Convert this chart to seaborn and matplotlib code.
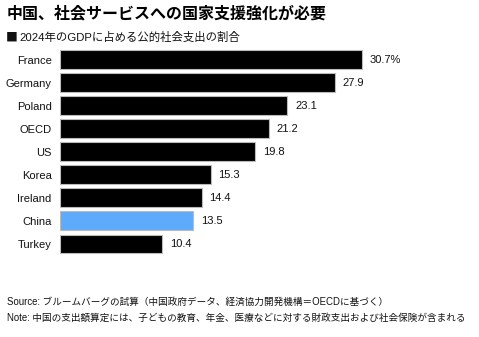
import matplotlib
matplotlib.use("Agg")
import matplotlib.pyplot as plt
import seaborn as sns
import pandas as pd

countries = ["France", "Germany", "Poland", "OECD", "US", "Korea", "Ireland", "China", "Turkey"]
values = [30.7, 27.9, 23.1, 21.2, 19.8, 15.3, 14.4, 13.5, 10.4]
labels = ["30.7%", "27.9", "23.1", "21.2", "19.8", "15.3", "14.4", "13.5", "10.4"]
highlight = "China"

title = "中国、社会サービスへの国家支援強化が必要"
subtitle = "2024年のGDPに占める公的社会支出の割合"
source = "Source: ブルームバーグの試算（中国政府データ、経済協力開発機構＝OECDに基づく）"
note = "Note: 中国の支出額算定には、子どもの教育、年金、医療などに対する財政支出および社会保険が含まれる"

sns.set_theme(style="white")
plt.rcParams["font.family"] = ["Liberation Sans", "Noto Sans CJK JP", "DejaVu Sans"]

df = pd.DataFrame({"country": countries, "value": values})
palette = {c: ("#5eabfb" if c == highlight else "#000000") for c in countries}

fig = plt.figure(figsize=(4.79, 3.37), dpi=100)
ax = fig.add_axes([60 / 479, 1 - 255.5 / 337, 393.6 / 479, (255.5 - 48) / 337])
sns.barplot(data=df, x="value", y="country", hue="country", palette=palette,
            order=countries, width=0.82, edgecolor="#bbbbbb", linewidth=0.8,
            saturation=1, legend=False, ax=ax)
ax.set_xlim(0, 40)
ax.set_ylim(8.5, -0.5)
ax.set_xlabel("")
ax.set_ylabel("")
ax.set_xticks([])
for s in ax.spines.values():
    s.set_visible(False)
ax.tick_params(axis="y", length=0, pad=6, labelsize=8, labelcolor="#111111")

for i, (v, lab) in enumerate(zip(values, labels)):
    ax.text(v + 0.8, i, lab, va="center", ha="left", fontsize=8, color="#111111")

fig.text(7 / 479, 1 - 14 / 337, title, fontsize=11.5, fontweight="bold",
         va="center", ha="left", color="#000000")
fig.text(6 / 479, 1 - 37 / 337, "■", fontsize=8.5, va="center", ha="left",
         color="#111111", family=["Noto Sans CJK JP"])
fig.text(19 / 479, 1 - 37 / 337, subtitle, fontsize=8.2, va="center", ha="left",
         color="#111111")
fig.text(7 / 479, 1 - 302 / 337, source, fontsize=6.9, va="center", ha="left",
         color="#111111")
fig.text(7 / 479, 1 - 318 / 337, note, fontsize=6.9, va="center", ha="left",
         color="#111111")

fig.savefig("out.png", dpi=100)
